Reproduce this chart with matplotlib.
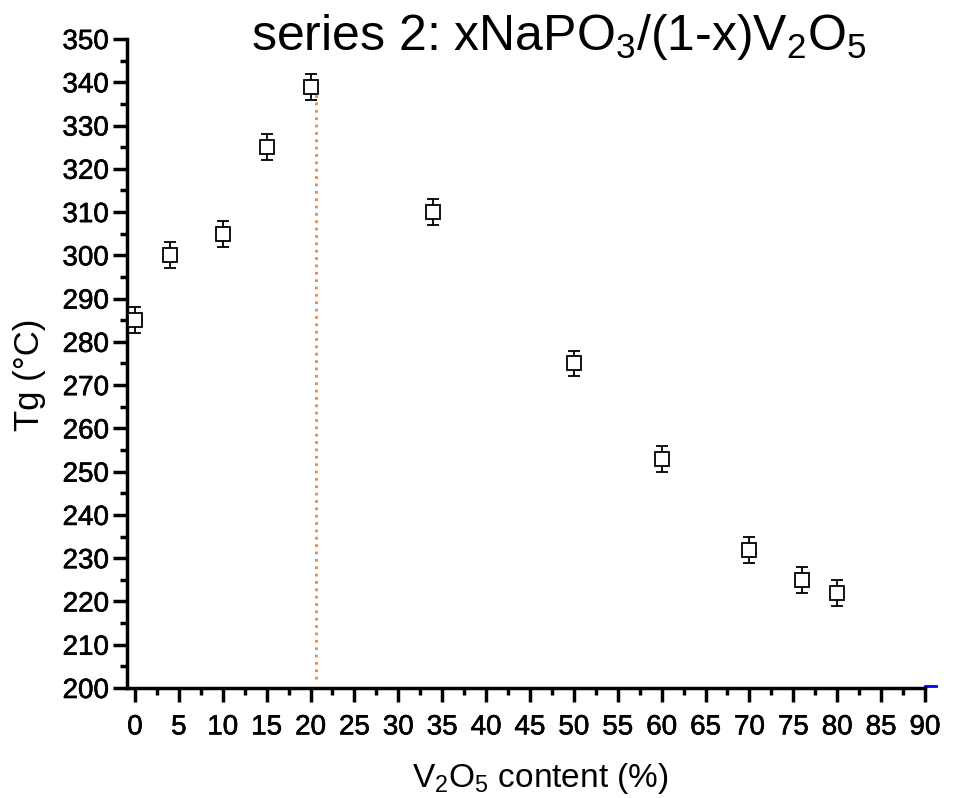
import matplotlib
matplotlib.use("Agg")
import matplotlib.pyplot as plt
import matplotlib.patheffects as pe
from matplotlib.ticker import MultipleLocator

plt.rcParams['font.family'] = ['Liberation Sans', 'DejaVu Sans']
plt.rcParams['mathtext.fontset'] = 'custom'
plt.rcParams['mathtext.rm'] = 'Liberation Sans'
plt.rcParams['mathtext.it'] = 'Liberation Sans'
plt.rcParams['mathtext.bf'] = 'Liberation Sans:bold'

# data
v2o5 = [0, 4, 10, 15, 20, 34, 50, 60, 70, 76, 80]
tg = [285, 300, 305, 325, 339, 310, 275, 253, 232, 225, 222]
err = [3, 3, 3, 3, 3, 3, 3, 3, 3, 3, 3]
vline_x = 20.6
vline_range = [202, 338]

fig = plt.figure(figsize=(9.66, 7.98), dpi=100)
ax = fig.add_axes([127/966, 1-688/798, (925-127)/966, (688-39)/798])

ax.errorbar(v2o5, tg, yerr=err, fmt='s', mfc='white', mec='black', mew=1.3,
            ms=10, ecolor='black', elinewidth=1.3, capsize=4.5, capthick=1.5, zorder=3)
ax.plot([vline_x, vline_x], vline_range, linestyle=':', color='#f0883a', lw=2, zorder=2)
ax.plot([90, 91.3], [200.5, 200.5], color='blue', lw=2, clip_on=False)

ax.set_xlim(-0.91, 90)
ax.set_ylim(200, 350)
ax.xaxis.set_major_locator(MultipleLocator(5))
ax.xaxis.set_minor_locator(MultipleLocator(2.5))
ax.yaxis.set_major_locator(MultipleLocator(10))
ax.yaxis.set_minor_locator(MultipleLocator(5))

for s in ['top', 'right']:
    ax.spines[s].set_visible(False)
for s in ['left', 'bottom']:
    ax.spines[s].set_linewidth(2.5)

ax.tick_params(axis='both', which='major', direction='out', length=10, width=2.5,
               labelsize=20, pad=3)
ax.tick_params(axis='both', which='minor', direction='out', length=5, width=2.5)
ax.tick_params(axis='x', which='major', pad=9)
for lab in ax.get_xticklabels() + ax.get_yticklabels():
    lab.set_path_effects([pe.withStroke(linewidth=0.45, foreground='black')])

ax.set_ylabel('Tg (°C)', fontsize=25)
ax.set_xlabel('V$_2$O$_5$ content (%)', fontsize=24)
ax.yaxis.set_label_coords(-0.102, 0.482)
ax.xaxis.set_label_coords(0.5175, -0.113)

fig.text(559/966, 1-12/798, 'series 2: xNaPO$_3$/(1-x)V$_2$O$_5$', fontsize=36,
         ha='center', va='top')

fig.savefig('out.png', dpi=100)
